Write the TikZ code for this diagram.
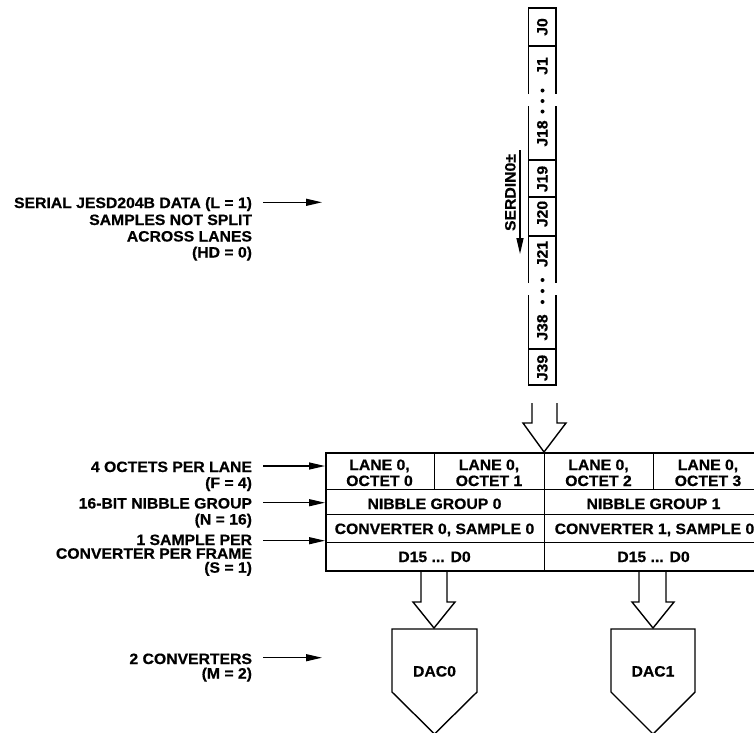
\documentclass[tikz,border=0pt]{standalone}
\usepackage{fontspec}
\setmainfont{Liberation Sans}[FakeStretch=1.05,BoldFeatures={FakeBold=0.6}]
\usetikzlibrary{arrows.meta}
\begin{document}
\begin{tikzpicture}[x=1pt,y=-1pt,
  txt/.style={font=\bfseries\fontsize{15}{16}\selectfont, inner sep=0pt, outer sep=0pt},
  arr/.style={line width=1.3pt, -{Triangle[length=16pt,width=7pt]}},
  thinline/.style={line width=0.9pt},
  boxline/.style={line width=1.4pt},
  hollow/.style={line width=1.4pt, line join=miter},
  dot/.style={circle, fill, inner sep=0pt, minimum size=4pt}]
\useasboundingbox (0,0) rectangle (754,732);
\clip (0,0) rectangle (754,732);

% ---------- left labels ----------
\node[txt, anchor=base east] (s1) at (252,208) {SERIAL JESD204B DATA (L = 1)};
\node[txt, anchor=base east] (s2) at (252,225) {SAMPLES NOT SPLIT};
\node[txt, anchor=base east] (s3) at (252,241.5) {ACROSS LANES};
\node[txt, anchor=base east] (s4) at (252,257.5) {(HD = 0)};
\coordinate (sA) at (263,202.3);
\coordinate (sB) at (322,202.3);
\draw[arr] (sA) -- (sB);

\node[txt, anchor=base east] (f1) at (252,472) {4 OCTETS PER LANE};
\node[txt, anchor=base east] (f2) at (252,488) {(F = 4)};
\node[txt, anchor=base east] (n1) at (252,508.5) {16-BIT NIBBLE GROUP};
\node[txt, anchor=base east] (n2) at (252,524.5) {(N = 16)};
\node[txt, anchor=base east] (p1) at (252,545) {1 SAMPLE PER};
\node[txt, anchor=base east] (p2) at (252,558.7) {CONVERTER PER FRAME};
\node[txt, anchor=base east] (p3) at (252,572.7) {(S = 1)};
\node[txt, anchor=base east] (m1) at (252,664) {2 CONVERTERS};
\node[txt, anchor=base east] (m2) at (252,678.5) {(M = 2)};

% ---------- table ----------
\node[draw, line width=2.2pt, minimum width=438pt, minimum height=118pt,
      anchor=north west, inner sep=0pt] (tbl) at (325,452) {};
\draw[thinline] (325,489) -- (763,489);
\draw[thinline] (325,514) -- (763,514);
\draw[thinline] (325,542) -- (763,542);
\draw[thinline] (544,452) -- (544,570);
\draw[thinline] (434,452) -- (434,489);
\draw[thinline] (653,452) -- (653,489);

\coordinate (fA) at (263,466);
\coordinate (nA) at (263,502.7);
\coordinate (pA) at (263,540.7);
\draw[arr] (fA) -- (fA -| tbl.west);
\draw[arr] (nA) -- (nA -| tbl.west);
\draw[arr] (pA) -- (pA -| tbl.west);
\coordinate (mA) at (263,657.7);
\coordinate (mB) at (322,657.7);
\draw[arr] (mA) -- (mB);

\node[txt, anchor=base] (o0a) at (379.5,470) {LANE 0,};
\node[txt, anchor=base] (o0b) at (379.5,486) {OCTET 0};
\node[txt, anchor=base] (o1a) at (489,470) {LANE 0,};
\node[txt, anchor=base] (o1b) at (489,486) {OCTET 1};
\node[txt, anchor=base] (o2a) at (598.5,470) {LANE 0,};
\node[txt, anchor=base] (o2b) at (598.5,486) {OCTET 2};
\node[txt, anchor=base] (o3a) at (708,470) {LANE 0,};
\node[txt, anchor=base] (o3b) at (708,486) {OCTET 3};
\node[txt, anchor=base] (ng0) at (434.5,509) {NIBBLE GROUP 0};
\node[txt, anchor=base] (ng1) at (653.5,509) {NIBBLE GROUP 1};
\node[txt, anchor=base] (cv0) at (434.5,534) {CONVERTER 0, SAMPLE 0};
\node[txt, anchor=base] (cv1) at (654.5,534) {CONVERTER 1, SAMPLE 0};
\node[txt, anchor=base] (d0) at (434.5,562) {D15 ... D0};
\node[txt, anchor=base] (d1) at (653.5,562) {D15 ... D0};

% ---------- lane column ----------
\draw[boxline] (528.5,8) rectangle (556,46);
\draw[boxline] (528.5,94) -- (528.5,46) (556,46) -- (556,94);
\draw[boxline] (528.5,106) -- (528.5,160) -- (556,160) -- (556,106);
\draw[boxline] (528.5,160) rectangle (556,197);
\draw[boxline] (528.5,197) rectangle (556,236);
\draw[boxline] (528.5,283) -- (528.5,236) (556,236) -- (556,283);
\draw[boxline] (528.5,295) -- (528.5,349) -- (556,349) -- (556,295);
\draw[boxline] (528.5,349) rectangle (556,385);

\node[txt, rotate=90, anchor=base] (j0) at (547.5,27) {J0};
\node[txt, rotate=90, anchor=base] (j1) at (547.5,66) {J1};
\node[txt, rotate=90, anchor=base] (j18) at (547.5,133.5) {J18};
\node[txt, rotate=90, anchor=base] (j19) at (547.5,179) {J19};
\node[txt, rotate=90, anchor=base] (j20) at (547.5,214) {J20};
\node[txt, rotate=90, anchor=base] (j21) at (547.5,254) {J21};
\node[txt, rotate=90, anchor=base] (j38) at (547.5,327.5) {J38};
\node[txt, rotate=90, anchor=base] (j39) at (547.5,368) {J39};

\node[dot] (da1) at (542.5,90.5) {};
\node[dot] (da2) at (542.5,101) {};
\node[dot] (da3) at (542.5,111.5) {};
\node[dot] (db1) at (542.5,280) {};
\node[dot] (db2) at (542.5,291) {};
\node[dot] (db3) at (542.5,302) {};

\node[txt, rotate=90, anchor=base] (serd) at (515.5,192.5) {SERDIN0±};
\coordinate (sdA) at (520,150);
\coordinate (sdB) at (520,254);
\draw[arr] (sdA) -- (sdB);

% ---------- hollow arrows ----------
\draw[hollow] (532,403) -- (532,423) -- (523,423) -- (544,452) -- (566,423) -- (557,423) -- (557,403);
\draw[hollow] (421,570) -- (421,602) -- (413,602) -- (434,628) -- (455,602) -- (447,602) -- (447,570);
\draw[hollow] (639,570) -- (639,602) -- (632,602) -- (653,628) -- (674,602) -- (666,602) -- (666,570);

% ---------- DACs ----------
\draw[hollow] (392,629) -- (477,629) -- (477,692) -- (434.5,734) -- (392,692) -- cycle;
\draw[hollow] (611,629) -- (695,629) -- (695,692) -- (653,734) -- (611,692) -- cycle;
\node[txt, anchor=base] (dac0) at (434.5,676.5) {DAC0};
\node[txt, anchor=base] (dac1) at (653,676.5) {DAC1};
\end{tikzpicture}
\end{document}
